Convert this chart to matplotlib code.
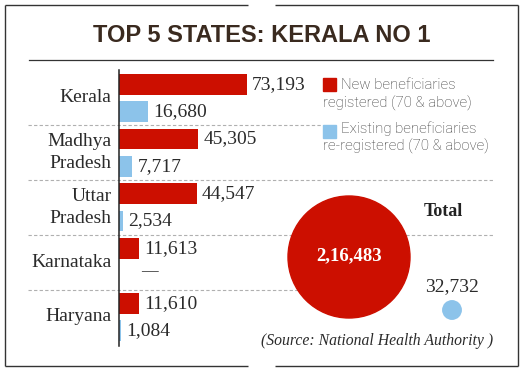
#
# Imports
#
import matplotlib
matplotlib.use("Agg")
import matplotlib.pyplot as plt
from matplotlib.patches import Circle, Rectangle

#
# Data
#
states = ["Kerala", "Madhya\nPradesh", "Uttar\nPradesh", "Karnataka", "Haryana"]
new_reg = [73193, 45305, 44547, 11613, 11610]
existing_rereg = [16680, 7717, 2534, 0, 1084]
total_new = 216483
total_existing = 32732

RED = "#cc0f00"
BLUE = "#8cc3ea"
INK = "#2b2b2b"
SERIF = "Liberation Serif"

def indian_fmt(n):
    s = str(n)
    if len(s) <= 3:
        return s
    head, tail = s[:-3], s[-3:]
    parts = []
    while len(head) > 2:
        parts.insert(0, head[-2:])
        head = head[:-2]
    if head:
        parts.insert(0, head)
    return ",".join(parts + [tail])

#
# Figure + background frame (pixel coordinates)
#
W, H = 522, 372
fig = plt.figure(figsize=(W / 100, H / 100), dpi=100)
fig.patch.set_facecolor("white")

bg = fig.add_axes([0, 0, 1, 1], zorder=0)
bg.set_xlim(0, W)
bg.set_ylim(H, 0)
bg.axis("off")

frame_kw = dict(color="#333333", lw=1.0, solid_capstyle="butt")
for y in (4.5, 366):
    bg.plot([5, 248], [y, y], **frame_kw)
    bg.plot([275, 518], [y, y], **frame_kw)
bg.plot([5, 5], [4.5, 366], **frame_kw)
bg.plot([518, 518], [4.5, 366], **frame_kw)

bg.text(262, 35, "TOP 5 STATES: KERALA NO 1", ha="center", va="center",
        fontsize=17, fontweight="bold", color="#3a2a1f",
        family=["Liberation Sans", "DejaVu Sans"])
bg.plot([29, 493], [60, 60], color="#333333", lw=0.9)

#
# Bars
#
ax_left, ax_right, ax_top, ax_bot = 119, 493, 70, 346
ax = fig.add_axes([ax_left / W, 1 - ax_bot / H, (ax_right - ax_left) / W, (ax_bot - ax_top) / H],
                  zorder=1)
ax.patch.set_alpha(0)
X_MAX = 214000
ax.set_xlim(0, X_MAX)
ax.set_ylim(4.53, -0.506)

pos = list(range(len(states)))
off = 0.248
bh = 0.38
red_bars = ax.barh([p - off for p in pos], new_reg, height=bh, color=RED)
blue_bars = ax.barh([p + off for p in pos], existing_rereg, height=bh, color=BLUE)

ax.bar_label(red_bars, labels=[f"{v:,}" for v in new_reg], padding=3.6,
             fontsize=14, family=SERIF, color=INK)
ax.bar_label(blue_bars, labels=[f"{v:,}" if v else "" for v in existing_rereg], padding=3.6,
             fontsize=14, family=SERIF, color=INK)
for p, v in zip(pos, existing_rereg):
    if v == 0:
        ax.annotate("—", (0, p + off - 0.08), xytext=(22, 0), textcoords="offset points",
                    ha="center", va="center", fontsize=12, family=SERIF, color=INK)

ax.set_yticks(pos, states)
ax.tick_params(axis="y", length=0, pad=5.5)
ax.tick_params(axis="x", bottom=False, labelbottom=False)
for lab in ax.get_yticklabels():
    lab.set_fontfamily(SERIF)
    lab.set_fontsize(14)
    lab.set_color(INK)
    lab.set_linespacing(1.35)
    lab.set_multialignment("right")
    lab.set_va("center")

for s in ("top", "right", "bottom"):
    ax.spines[s].set_visible(False)
ax.spines["left"].set_color("#222222")
ax.spines["left"].set_linewidth(1.1)

# dashed separators between states
span = ax_right - ax_left
sep_ends = [322, 493, 493, 349]
for i, xe in enumerate(sep_ends):
    ax.axhline(i + 0.5, xmin=(28 - ax_left) / span, xmax=(xe - ax_left) / span,
               color="#b0b0b0", lw=0.8, ls=(0, (3, 2)), clip_on=False, zorder=0)

#
# Overlay: legend, totals, source
#
top = fig.add_axes([0, 0, 1, 1], zorder=2)
top.set_xlim(0, W)
top.set_ylim(H, 0)
top.axis("off")

leg_font = dict(family=["Roboto", "DejaVu Sans"], fontweight="light", fontsize=10.8,
                color="#333333", va="center", ha="left")
top.add_patch(Rectangle((323, 78), 13, 13, color=RED))
top.text(341, 85, "New beneficiaries", **leg_font)
top.text(323, 103, "registered (70 & above)", **leg_font)
top.add_patch(Rectangle((323, 125), 13, 13, color=BLUE))
top.text(341, 128.5, "Existing beneficiaries", **leg_font)
top.text(323, 146.5, "re-registered (70 & above)", **leg_font)

R_SCALE = 61 / 216483
top.add_patch(Circle((349, 257), total_new * R_SCALE, color=RED, zorder=3))
top.text(349, 256, indian_fmt(total_new), ha="center", va="center", color="white",
         fontsize=13.5, fontweight="bold", family=SERIF, zorder=4)
top.add_patch(Circle((452, 310), total_existing * R_SCALE, color=BLUE, zorder=3))
top.text(452, 287, indian_fmt(total_existing), ha="center", va="center", color=INK,
         fontsize=14, family=SERIF)
top.text(443, 212, "Total", ha="center", va="center", color="#222222",
         fontsize=13, fontweight="bold", family=SERIF)
top.text(377, 341, "(Source: National Health Authority )", ha="center", va="center",
         color=INK, fontsize=11.3, fontstyle="italic", family=SERIF)

fig.savefig("out.png", dpi=100)
